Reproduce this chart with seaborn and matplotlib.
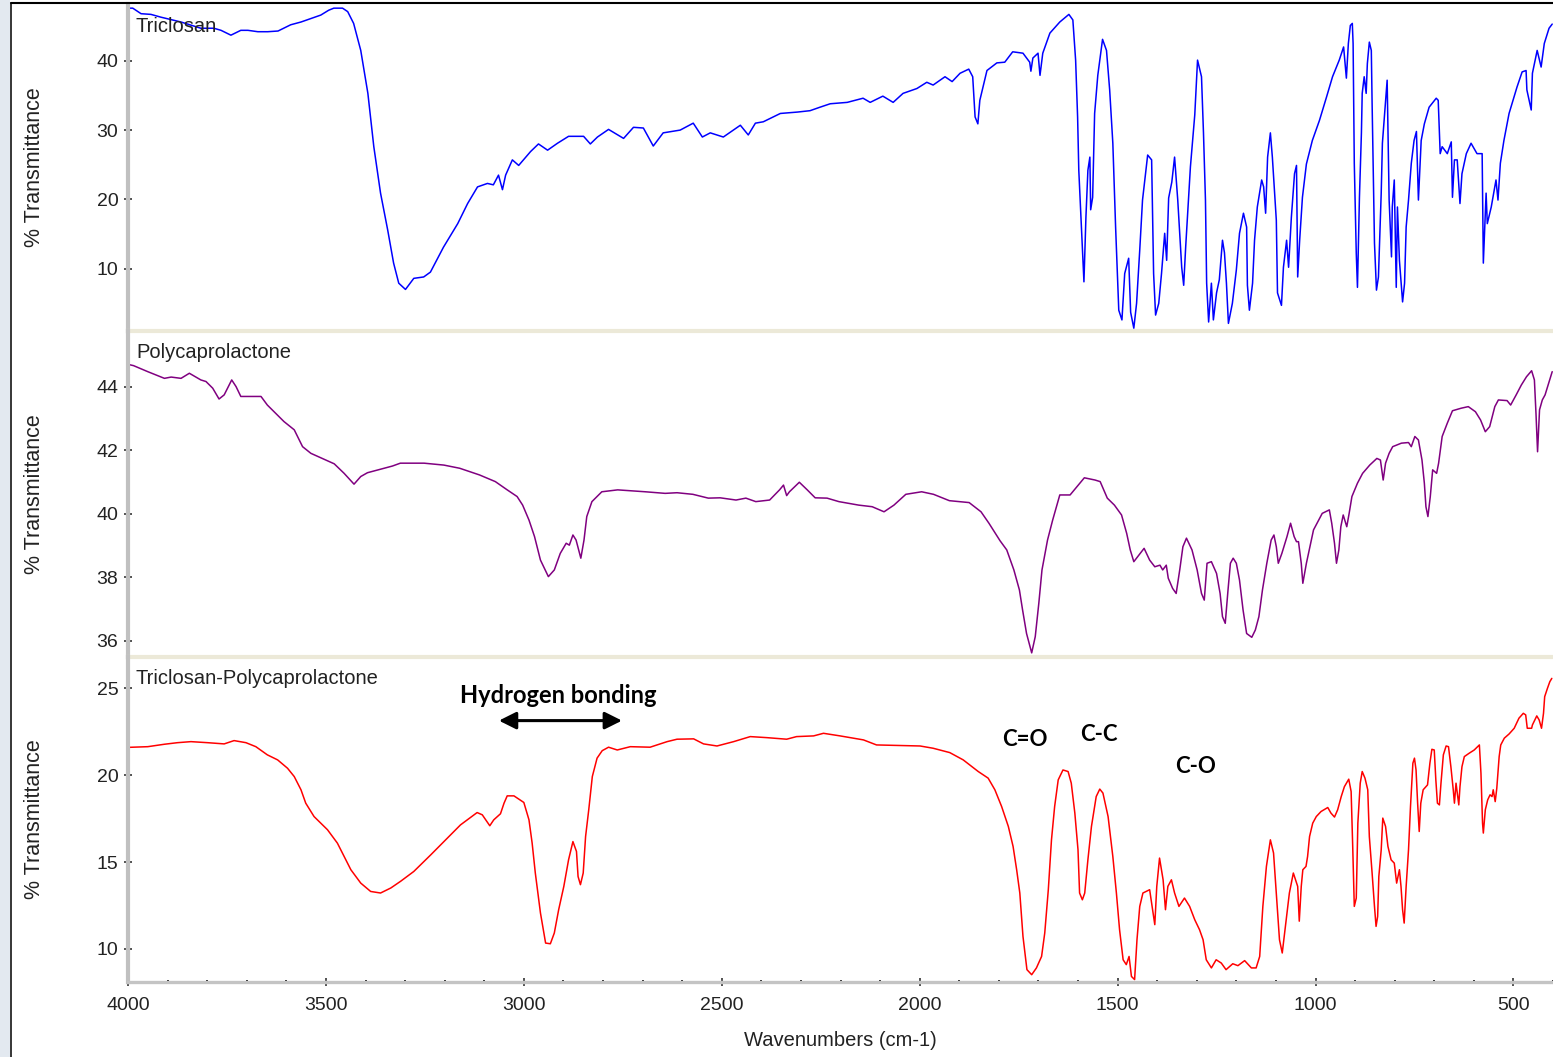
import pandas as pd
import numpy as np
import matplotlib
matplotlib.use("Agg")
import matplotlib.pyplot as plt
import seaborn as sns
from matplotlib.ticker import MultipleLocator
from matplotlib.patches import Rectangle
from matplotlib.lines import Line2D

# Spectra: (wavenumber cm-1, % transmittance)
triclosan = [
    (4000, 47.6), (3988, 47.6), (3967, 46.8), (3942, 46.7), (3917, 46.3), (3866, 45.6), (3816, 44.7),
    (3783, 44.7), (3765, 44.4), (3740, 43.7), (3715, 44.4), (3697, 44.4), (3672, 44.2), (3647, 44.2),
    (3621, 44.3), (3589, 45.2), (3563, 45.6), (3538, 46.1), (3513, 46.6), (3493, 47.3), (3480, 47.6),
    (3458, 47.6), (3445, 47.1), (3430, 45.4), (3412, 41.5), (3394, 35.3), (3379, 27.6), (3362, 20.9),
    (3344, 15.6), (3329, 10.8), (3316, 7.9), (3299, 7.0), (3278, 8.6), (3253, 8.8), (3236, 9.5),
    (3203, 13.1), (3167, 16.5), (3142, 19.4), (3117, 21.8), (3092, 22.3), (3077, 22.1), (3064, 23.5),
    (3054, 21.4), (3046, 23.5), (3029, 25.7), (3013, 24.9), (2983, 26.9), (2963, 28.0), (2940, 27.1),
    (2915, 28.1), (2887, 29.1), (2849, 29.1), (2832, 28.0), (2814, 29.0), (2786, 30.1), (2748, 28.8),
    (2723, 30.4), (2698, 30.3), (2673, 27.7), (2648, 29.6), (2605, 30.0), (2572, 31.0), (2549, 29.0),
    (2529, 29.6), (2496, 29.0), (2453, 30.7), (2433, 29.3), (2415, 31.0), (2395, 31.2), (2352, 32.4),
    (2309, 32.6), (2277, 32.8), (2252, 33.3), (2226, 33.8), (2183, 34.0), (2143, 34.6), (2125, 34.0),
    (2093, 34.9), (2067, 34.0), (2042, 35.3), (2007, 36.0), (1982, 36.9), (1966, 36.5), (1936, 37.7),
    (1918, 37.0), (1898, 38.2), (1876, 38.8), (1866, 37.7), (1860, 31.9), (1853, 30.9), (1848, 34.3),
    (1830, 38.6), (1805, 39.7), (1785, 39.8), (1765, 41.3), (1739, 41.1), (1722, 39.8), (1719, 38.5),
    (1714, 40.4), (1701, 41.1), (1696, 37.9), (1689, 41.1), (1671, 44.0), (1646, 45.6), (1623, 46.7),
    (1613, 45.9), (1606, 40.1), (1601, 31.9), (1598, 24.2), (1588, 11.7), (1585, 8.1), (1580, 17.4),
    (1575, 24.2), (1570, 26.1), (1568, 18.5), (1563, 20.3), (1558, 32.4), (1550, 37.9), (1538, 43.1),
    (1528, 41.5), (1520, 35.8), (1512, 28.1), (1505, 16.0), (1497, 4.0), (1489, 2.6), (1482, 9.3),
    (1472, 11.5), (1467, 3.7), (1459, 1.4), (1452, 5.0), (1444, 12.7), (1437, 19.9), (1424, 26.4),
    (1414, 25.7), (1409, 9.3), (1404, 3.3), (1396, 5.0), (1389, 9.3), (1381, 15.1), (1376, 11.2),
    (1371, 20.2), (1363, 22.5), (1356, 26.1), (1348, 19.9), (1338, 10.2), (1333, 7.6), (1328, 13.1),
    (1316, 24.7), (1305, 32.2), (1298, 40.1), (1288, 37.7), (1283, 29.6), (1278, 19.9), (1275, 7.9),
    (1270, 2.3), (1263, 7.9), (1258, 2.6), (1250, 6.5), (1243, 8.4), (1235, 14.1), (1230, 12.3),
    (1225, 7.9), (1220, 2.1), (1210, 5.0), (1200, 9.8), (1192, 15.1), (1182, 18.0), (1174, 16.0),
    (1172, 7.6), (1167, 4.0), (1159, 7.9), (1154, 14.1), (1147, 18.9), (1136, 22.8), (1131, 21.8),
    (1126, 18.0), (1121, 26.1), (1114, 29.6), (1109, 26.1), (1099, 17.0), (1096, 6.5), (1086, 4.7),
    (1081, 10.2), (1073, 14.1), (1068, 10.2), (1061, 17.4), (1053, 23.7), (1048, 24.9), (1045, 8.8),
    (1040, 14.1), (1033, 20.3), (1023, 25.1), (1008, 28.5), (990, 31.4), (972, 34.8), (957, 37.7),
    (940, 40.1), (929, 42.0), (922, 37.5), (917, 42.5), (912, 45.1), (907, 45.4), (905, 42.5),
    (902, 25.2), (897, 12.2), (894, 7.3), (889, 20.3), (884, 29.6), (882, 35.3), (877, 37.7),
    (872, 35.3), (869, 39.6), (864, 42.7), (859, 41.5), (857, 33.9), (851, 13.7), (846, 6.9),
    (841, 8.8), (834, 20.9), (831, 28.1), (824, 33.3), (819, 37.2), (814, 19.9), (808, 11.7),
    (806, 18.9), (801, 22.8), (796, 7.3), (793, 18.9), (788, 11.2), (780, 5.2), (775, 7.9),
    (771, 16.0), (765, 19.9), (758, 25.2), (751, 28.5), (745, 29.8), (740, 19.9), (733, 28.5),
    (725, 30.9), (713, 33.3), (695, 34.6), (690, 34.3), (685, 26.6), (680, 27.6), (667, 26.6),
    (657, 28.3), (654, 20.3), (649, 25.7), (642, 25.7), (635, 19.4), (630, 23.7), (619, 26.6),
    (607, 28.1), (592, 26.6), (579, 26.6), (576, 10.8), (569, 20.9), (566, 16.5), (556, 18.9),
    (544, 22.8), (539, 19.9), (533, 25.2), (524, 28.5), (511, 32.4), (491, 36.2), (478, 38.4),
    (468, 38.6), (466, 35.8), (455, 32.9), (452, 38.2), (440, 41.5), (430, 39.1), (422, 42.5),
    (410, 44.7), (402, 45.3),
]

polycaprolactone = [
    (4000, 44.70), (3986, 44.66), (3950, 44.47), (3908, 44.26), (3891, 44.30), (3866, 44.26),
    (3845, 44.42), (3816, 44.21), (3803, 44.16), (3786, 43.95), (3770, 43.61), (3757, 43.74),
    (3738, 44.21), (3727, 44.00), (3715, 43.69), (3664, 43.69), (3648, 43.42), (3606, 42.90),
    (3580, 42.64), (3559, 42.11), (3538, 41.90), (3513, 41.76), (3479, 41.57), (3454, 41.27),
    (3429, 40.93), (3412, 41.17), (3395, 41.29), (3362, 41.40), (3332, 41.50), (3312, 41.59),
    (3252, 41.59), (3202, 41.53), (3162, 41.43), (3112, 41.22), (3072, 41.01), (3042, 40.75),
    (3017, 40.54), (3003, 40.27), (2987, 39.80), (2973, 39.28), (2958, 38.54), (2938, 38.02),
    (2923, 38.23), (2908, 38.75), (2893, 39.07), (2885, 39.01), (2876, 39.33), (2868, 39.17),
    (2856, 38.60), (2848, 39.17), (2841, 39.91), (2828, 40.38), (2803, 40.69), (2763, 40.75),
    (2693, 40.69), (2643, 40.64), (2613, 40.66), (2573, 40.61), (2534, 40.49), (2504, 40.50),
    (2464, 40.43), (2439, 40.49), (2414, 40.38), (2379, 40.43), (2354, 40.75), (2344, 40.90),
    (2336, 40.57), (2329, 40.69), (2304, 40.99), (2284, 40.75), (2264, 40.50), (2234, 40.49),
    (2204, 40.38), (2154, 40.27), (2120, 40.22), (2090, 40.06), (2065, 40.27), (2035, 40.61),
    (1995, 40.69), (1965, 40.61), (1925, 40.41), (1875, 40.35), (1845, 40.06), (1825, 39.70),
    (1797, 39.15), (1780, 38.86), (1762, 38.23), (1748, 37.60), (1740, 36.97), (1730, 36.23),
    (1717, 35.62), (1708, 36.13), (1699, 37.18), (1691, 38.23), (1677, 39.17), (1664, 39.80),
    (1646, 40.59), (1620, 40.59), (1606, 40.80), (1584, 41.13), (1557, 41.06), (1544, 41.01),
    (1526, 40.49), (1508, 40.27), (1490, 39.96), (1477, 39.38), (1468, 38.86), (1459, 38.49),
    (1446, 38.70), (1433, 38.91), (1419, 38.54), (1406, 38.33), (1393, 38.38), (1386, 38.23),
    (1377, 38.38), (1372, 37.97), (1361, 37.65), (1352, 37.49), (1343, 38.23), (1335, 38.96),
    (1326, 39.23), (1312, 38.86), (1299, 38.23), (1288, 37.49), (1281, 37.28), (1274, 38.44),
    (1263, 38.49), (1250, 38.12), (1241, 37.49), (1235, 36.76), (1228, 36.55), (1221, 37.60),
    (1215, 38.44), (1208, 38.60), (1200, 38.44), (1192, 37.91), (1183, 36.97), (1174, 36.23),
    (1161, 36.11), (1152, 36.34), (1143, 36.76), (1134, 37.60), (1123, 38.44), (1112, 39.17),
    (1105, 39.33), (1099, 38.96), (1094, 38.44), (1085, 38.75), (1072, 39.28), (1063, 39.70),
    (1054, 39.28), (1048, 39.12), (1043, 39.12), (1036, 38.44), (1032, 37.81), (1023, 38.44),
    (1014, 38.96), (1005, 39.49), (996, 39.70), (983, 40.01), (965, 40.12), (959, 39.70),
    (952, 39.07), (947, 38.44), (941, 38.86), (936, 39.59), (930, 39.96), (921, 39.59),
    (915, 40.01), (908, 40.54), (894, 40.96), (881, 41.27), (863, 41.53), (845, 41.74),
    (836, 41.69), (829, 41.06), (823, 41.59), (814, 41.90), (805, 42.11), (783, 42.22),
    (765, 42.24), (758, 42.11), (749, 42.43), (740, 42.32), (731, 41.69), (725, 40.96),
    (721, 40.22), (716, 39.91), (710, 40.54), (704, 41.38), (694, 41.27), (689, 41.59),
    (680, 42.43), (667, 42.85), (654, 43.24), (632, 43.32), (614, 43.37), (596, 43.21),
    (583, 42.95), (571, 42.58), (560, 42.74), (547, 43.37), (538, 43.58), (516, 43.56),
    (507, 43.42), (493, 43.74), (480, 44.05), (467, 44.31), (454, 44.50), (447, 44.21),
    (443, 43.16), (439, 41.95), (434, 43.27), (427, 43.58), (420, 43.74), (411, 44.11),
    (402, 44.47),
]

triclosan_pcl = [
    (4000, 21.60), (3986, 21.61), (3950, 21.64), (3908, 21.78), (3875, 21.87), (3841, 21.93),
    (3799, 21.87), (3757, 21.80), (3732, 21.99), (3702, 21.87), (3677, 21.64), (3648, 21.17),
    (3622, 20.88), (3597, 20.40), (3580, 19.92), (3563, 19.16), (3551, 18.39), (3530, 17.62),
    (3496, 16.86), (3471, 16.09), (3454, 15.32), (3437, 14.56), (3412, 13.79), (3387, 13.31),
    (3362, 13.22), (3336, 13.51), (3311, 13.90), (3278, 14.46), (3235, 15.42), (3193, 16.38),
    (3160, 17.14), (3118, 17.85), (3105, 17.72), (3086, 17.09), (3076, 17.43), (3059, 17.78),
    (3050, 18.39), (3042, 18.81), (3025, 18.81), (3000, 18.43), (2987, 17.43), (2979, 16.09),
    (2971, 14.37), (2958, 12.07), (2945, 10.34), (2933, 10.30), (2923, 10.92), (2912, 12.26),
    (2899, 13.60), (2887, 15.13), (2876, 16.18), (2867, 15.61), (2863, 14.17), (2857, 13.70),
    (2850, 14.37), (2844, 16.47), (2836, 18.01), (2827, 19.92), (2815, 20.98), (2802, 21.41),
    (2786, 21.61), (2764, 21.45), (2731, 21.64), (2681, 21.61), (2638, 21.93), (2613, 22.07),
    (2571, 22.09), (2546, 21.80), (2512, 21.68), (2470, 21.93), (2428, 22.22), (2386, 22.16),
    (2336, 22.07), (2311, 22.22), (2268, 22.26), (2243, 22.41), (2201, 22.26), (2142, 22.03),
    (2109, 21.74), (1999, 21.68), (1966, 21.55), (1924, 21.30), (1890, 20.88), (1852, 20.21),
    (1827, 19.83), (1810, 19.16), (1793, 18.20), (1776, 17.05), (1764, 15.90), (1755, 14.56),
    (1747, 13.22), (1739, 10.72), (1729, 8.81), (1717, 8.52), (1705, 8.91), (1692, 9.57),
    (1684, 10.92), (1675, 13.41), (1667, 16.28), (1659, 18.20), (1650, 19.73), (1638, 20.30),
    (1625, 20.21), (1617, 19.54), (1608, 17.82), (1600, 15.71), (1596, 13.22), (1589, 12.83),
    (1583, 13.22), (1575, 15.13), (1566, 17.05), (1554, 18.77), (1545, 19.20), (1537, 18.97),
    (1524, 17.62), (1512, 15.32), (1503, 13.22), (1495, 11.11), (1486, 9.38), (1478, 9.10),
    (1471, 9.57), (1465, 8.42), (1457, 8.24), (1451, 10.53), (1444, 12.45), (1436, 13.22),
    (1419, 13.41), (1406, 11.40), (1401, 13.60), (1394, 15.23), (1385, 13.98), (1379, 12.26),
    (1373, 13.60), (1364, 13.98), (1356, 13.22), (1345, 12.45), (1331, 12.93), (1318, 12.45),
    (1305, 11.68), (1293, 11.11), (1284, 10.53), (1276, 9.38), (1263, 8.91), (1251, 9.38),
    (1238, 9.19), (1226, 8.81), (1209, 9.15), (1196, 9.04), (1179, 9.33), (1162, 8.91),
    (1150, 8.91), (1141, 9.57), (1133, 12.45), (1124, 14.75), (1114, 16.28), (1106, 15.52),
    (1099, 13.22), (1091, 10.53), (1084, 9.77), (1076, 11.30), (1066, 13.22), (1056, 14.37),
    (1045, 13.60), (1041, 11.60), (1036, 13.60), (1032, 14.56), (1024, 14.75), (1020, 15.32),
    (1015, 16.47), (1007, 17.24), (998, 17.62), (986, 17.91), (969, 18.14), (961, 17.82),
    (952, 17.59), (944, 18.01), (935, 18.77), (927, 19.34), (916, 19.77), (910, 19.06),
    (906, 15.90), (902, 12.45), (897, 12.93), (893, 17.24), (887, 19.54), (882, 20.21),
    (875, 19.83), (868, 19.16), (864, 16.47), (857, 14.37), (851, 12.45), (847, 11.30),
    (843, 11.87), (840, 14.17), (834, 15.71), (830, 17.53), (823, 17.05), (817, 15.90),
    (809, 15.13), (801, 14.94), (795, 13.79), (788, 14.56), (784, 13.60), (780, 12.26),
    (776, 11.49), (771, 13.60), (765, 15.71), (760, 18.20), (754, 20.69), (750, 20.98),
    (746, 20.30), (742, 18.39), (738, 16.76), (734, 18.39), (728, 19.16), (717, 19.44),
    (711, 20.69), (706, 21.49), (700, 21.45), (696, 19.73), (692, 18.39), (687, 18.29),
    (683, 19.54), (677, 21.17), (670, 21.68), (664, 21.64), (658, 20.49), (652, 19.16),
    (649, 18.39), (645, 19.54), (638, 18.29), (635, 19.34), (630, 20.49), (624, 21.07),
    (612, 21.26), (599, 21.45), (586, 21.74), (582, 20.11), (578, 17.24), (576, 16.67),
    (571, 18.01), (565, 18.58), (559, 18.87), (554, 18.77), (551, 19.16), (546, 18.48),
    (542, 19.25), (536, 21.07), (532, 21.74), (523, 22.13), (511, 22.37), (498, 22.70),
    (486, 23.28), (475, 23.56), (469, 23.47), (465, 22.70), (454, 22.70), (452, 22.89),
    (441, 23.41), (435, 23.18), (429, 22.70), (424, 23.56), (421, 24.52), (414, 25.00),
    (408, 25.38), (403, 25.57),
]

panel_names = ["Triclosan", "Polycaprolactone", "Triclosan-Polycaprolactone"]
panel_colors = ["#0000ff", "#800080", "#ff0000"]
panel_ylims = [(1.0, 48.2), (35.49, 45.75), (8.10, 26.80)]
panel_major = [10, 2, 5]
panel_minor = [2.5, 0.5, 1]

peak_labels = ["C=O", "C-C", "C-O"]
peak_pos = [(1735, 22.03), (1548, 22.32), (1304, 20.49)]

sns.set_theme(style="white")
plt.rcParams["font.family"] = ["Liberation Sans", "DejaVu Sans"]

W, H = 1553, 1057
fig = plt.figure(figsize=(W / 100, H / 100), dpi=100)

# window chrome: left strip and black frame
fig.add_artist(Rectangle((0, 0), 10 / W, 1, transform=fig.transFigure,
                         facecolor="#e3e9f0", edgecolor="none", zorder=0))
fig.add_artist(Line2D([11 / W, 11 / W], [0, 1 - 3 / H], transform=fig.transFigure,
                      color="black", lw=1.1))
fig.add_artist(Line2D([11 / W, 1], [1 - 3 / H, 1 - 3 / H], transform=fig.transFigure,
                      color="black", lw=1.5))

# pixel rows of each panel (top, bottom)
rows = [(4, 331), (331, 657), (657, 982)]
left = 128 / W
width = 1 - left

axes = []
spectra = [triclosan, polycaprolactone, triclosan_pcl]
for i, (data, name, color) in enumerate(zip(spectra, panel_names, panel_colors)):
    top, bot = rows[i]
    ax = fig.add_axes([left, 1 - bot / H, width, (bot - top) / H])
    ax.set_facecolor("none")
    df = pd.DataFrame(data, columns=["wn", "t"])
    sns.lineplot(data=df, x="wn", y="t", ax=ax, color=color, lw=1.1,
                 estimator=None, sort=False)
    ax.set_xlim(4000, 400)
    ax.set_ylim(*panel_ylims[i])

    for s in ["top", "right"]:
        ax.spines[s].set_visible(False)
    ax.spines["left"].set_color("#c0c0c0")
    ax.spines["left"].set_linewidth(3.0)
    if i < 2:
        ax.spines["bottom"].set_color("#ece9d8")
        ax.spines["bottom"].set_linewidth(3.0)
    else:
        ax.spines["bottom"].set_color("#c4c4c4")
        ax.spines["bottom"].set_linewidth(2.4)

    ax.yaxis.set_major_locator(MultipleLocator(panel_major[i]))
    ax.yaxis.set_minor_locator(MultipleLocator(panel_minor[i]))
    ax.tick_params(axis="y", which="major", left=True, direction="inout", length=5.8,
                   width=1.1, color="#222222", labelsize=14, labelcolor="#222222", pad=4)
    ax.tick_params(axis="y", which="minor", left=True, direction="in", length=1.6,
                   width=1.4, color="#222222")

    if i < 2:
        ax.tick_params(axis="x", which="both", bottom=False, labelbottom=False)
        ax.set_xlabel("")
    else:
        ax.xaxis.set_major_locator(MultipleLocator(500))
        ax.xaxis.set_minor_locator(MultipleLocator(100))
        ax.tick_params(axis="x", which="major", bottom=True, direction="inout", length=6,
                       width=1.1, color="#222222", labelsize=14, labelcolor="#222222", pad=8)
        ax.tick_params(axis="x", which="minor", bottom=True, direction="in", length=1.6,
                       width=1.4, color="#222222")
        ax.set_xlabel("Wavenumbers (cm-1)", fontsize=14.5, color="#222222")
        ax.xaxis.set_label_coords(0.5, (bot - 1040) / (bot - top))
        ax.xaxis.label.set_va("center")

    ax.set_ylabel("% Transmittance", fontsize=15.5, color="#222222")
    ax.yaxis.set_label_coords((35 - 128) / (W - 128), 0.5)
    ax.yaxis.label.set_va("center")

    ax.text(0.0056, 1 - (22 if i == 0 else 21) / (bot - top), name, transform=ax.transAxes,
            ha="left", va="center", fontsize=14.5, color="#222222")
    axes.append(ax)

# annotations on the blend spectrum
ax = axes[2]
bold = ["Lato", "DejaVu Sans"]
ax.text(2912, 24.56, "Hydrogen bonding", ha="center", va="center", fontsize=17,
        fontweight="bold", family=bold, color="black")
ax.annotate("", xy=(2752, 23.14), xytext=(3063, 23.14),
            arrowprops=dict(arrowstyle="<|-|>", color="black", lw=2.2,
                            mutation_scale=26, shrinkA=0, shrinkB=0))
for lab, (x, y) in zip(peak_labels, peak_pos):
    ax.text(x, y, lab, ha="center", va="center", fontsize=16, fontweight="bold",
            family=bold, color="black")

fig.savefig("out.png", dpi=100)
